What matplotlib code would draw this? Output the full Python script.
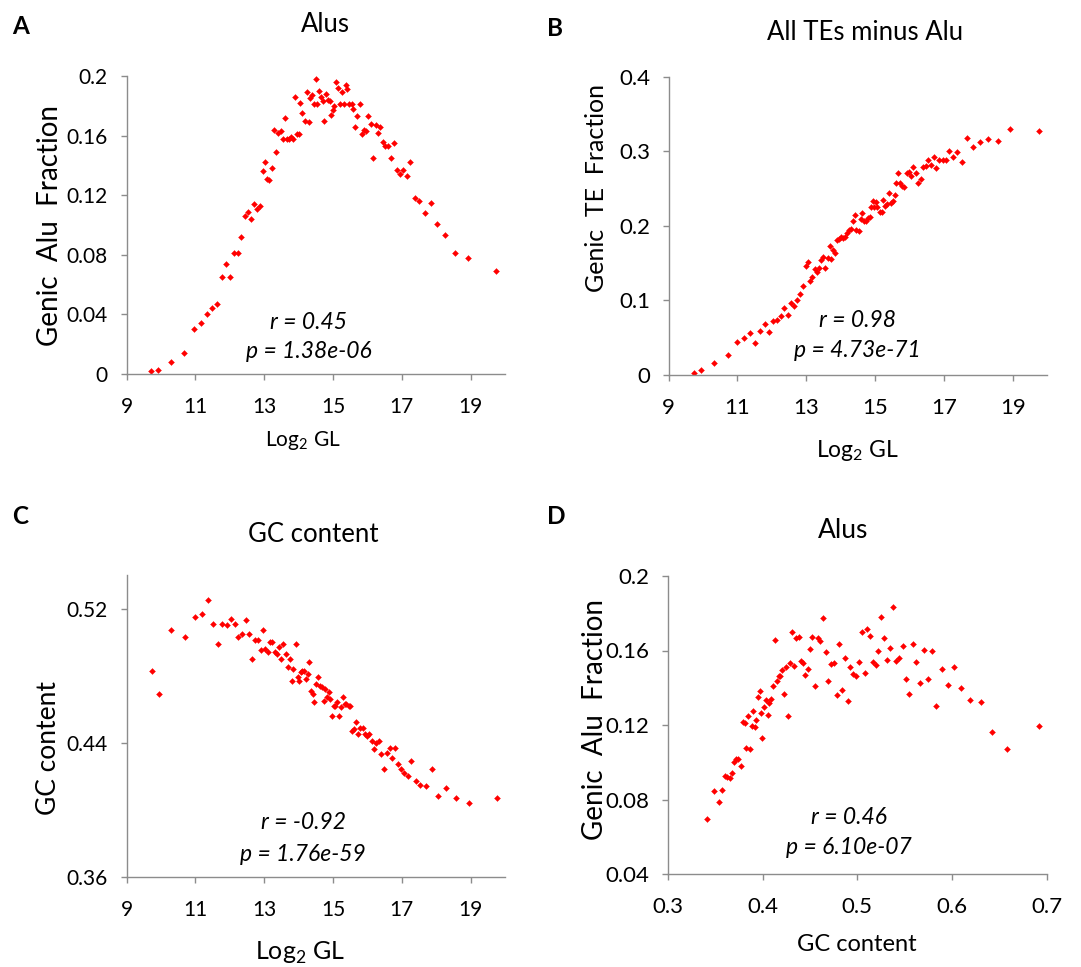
import matplotlib
matplotlib.use("Agg")
import matplotlib.pyplot as plt

# ---- data ----
# A: genic Alu fraction vs log2 gene length
alu_gl_x = [9.72, 9.91, 10.29, 10.67, 10.95, 11.16, 11.34, 11.49, 11.63, 11.76,
            11.89, 12.00, 12.13, 12.23, 12.33, 12.44, 12.53, 12.62, 12.71, 12.79,
            12.88, 12.95, 13.02, 13.08, 13.15, 13.22, 13.28, 13.35, 13.41, 13.48,
            13.54, 13.59, 13.66, 13.72, 13.77, 13.83, 13.88, 13.95, 14.00, 14.05,
            14.11, 14.17, 14.23, 14.29, 14.33, 14.39, 14.44, 14.49, 14.54, 14.59,
            14.64, 14.70, 14.75, 14.80, 14.85, 14.90, 14.94, 14.99, 15.04, 15.09,
            15.14, 15.20, 15.25, 15.31, 15.37, 15.42, 15.47, 15.54, 15.59, 15.65,
            15.70, 15.77, 15.84, 15.89, 15.97, 16.03, 16.10, 16.16, 16.24, 16.31,
            16.37, 16.44, 16.52, 16.60, 16.68, 16.77, 16.85, 16.95, 17.04, 17.14,
            17.23, 17.38, 17.51, 17.66, 17.84, 18.03, 18.26, 18.55, 18.92, 19.73]
alu_gl_y = [0.0018, 0.0027, 0.0078, 0.0139, 0.030, 0.034, 0.040, 0.044, 0.047, 0.065,
            0.074, 0.065, 0.081, 0.081, 0.092, 0.106, 0.109, 0.104, 0.114, 0.111,
            0.113, 0.136, 0.142, 0.131, 0.130, 0.138, 0.164, 0.149, 0.162, 0.163,
            0.158, 0.172, 0.158, 0.158, 0.159, 0.158, 0.186, 0.161, 0.161, 0.182,
            0.175, 0.170, 0.189, 0.169, 0.185, 0.187, 0.181, 0.198, 0.181, 0.190,
            0.186, 0.183, 0.170, 0.188, 0.184, 0.183, 0.174, 0.177, 0.180, 0.196,
            0.192, 0.181, 0.189, 0.181, 0.194, 0.191, 0.181, 0.181, 0.178, 0.166,
            0.173, 0.181, 0.161, 0.164, 0.163, 0.173, 0.168, 0.145, 0.167, 0.162,
            0.166, 0.156, 0.153, 0.153, 0.145, 0.155, 0.137, 0.134, 0.137, 0.133,
            0.142, 0.118, 0.116, 0.108, 0.115, 0.101, 0.093, 0.081, 0.078, 0.069]

# B: genic TE (minus Alu) fraction vs log2 gene length
te_gl_x = [9.75, 9.94, 10.31, 10.71, 10.99, 11.20, 11.36, 11.51, 11.65, 11.79,
           11.92, 12.04, 12.15, 12.26, 12.36, 12.47, 12.56, 12.64, 12.73, 12.82,
           12.91, 12.98, 13.05, 13.10, 13.18, 13.25, 13.31, 13.38, 13.43, 13.49,
           13.55, 13.62, 13.68, 13.73, 13.79, 13.85, 13.90, 13.96, 14.01, 14.07,
           14.13, 14.18, 14.24, 14.30, 14.35, 14.41, 14.46, 14.52, 14.58, 14.62,
           14.68, 14.74, 14.79, 14.84, 14.89, 14.93, 14.98, 15.03, 15.07, 15.13,
           15.19, 15.24, 15.30, 15.35, 15.41, 15.47, 15.51, 15.57, 15.62, 15.67,
           15.72, 15.78, 15.84, 15.92, 15.98, 16.05, 16.11, 16.19, 16.26, 16.34,
           16.40, 16.47, 16.54, 16.64, 16.70, 16.78, 16.87, 16.97, 17.06, 17.15,
           17.27, 17.39, 17.53, 17.67, 17.84, 18.06, 18.28, 18.57, 18.93, 19.76]
te_gl_y = [0.002, 0.006, 0.016, 0.026, 0.044, 0.049, 0.056, 0.043, 0.059, 0.068,
           0.057, 0.072, 0.074, 0.079, 0.089, 0.080, 0.096, 0.092, 0.101, 0.108,
           0.119, 0.146, 0.151, 0.126, 0.131, 0.142, 0.138, 0.144, 0.154, 0.158,
           0.143, 0.157, 0.173, 0.155, 0.168, 0.164, 0.181, 0.182, 0.185, 0.184,
           0.185, 0.191, 0.195, 0.196, 0.207, 0.215, 0.194, 0.193, 0.209, 0.217,
           0.207, 0.206, 0.210, 0.212, 0.225, 0.234, 0.225, 0.232, 0.225, 0.219,
           0.219, 0.235, 0.227, 0.229, 0.244, 0.231, 0.234, 0.242, 0.258, 0.271,
           0.258, 0.254, 0.252, 0.271, 0.273, 0.267, 0.279, 0.271, 0.258, 0.263,
           0.279, 0.281, 0.289, 0.282, 0.293, 0.278, 0.289, 0.289, 0.288, 0.301,
           0.293, 0.299, 0.286, 0.318, 0.306, 0.313, 0.317, 0.314, 0.330, 0.328]

# C: GC content vs log2 gene length
gc_gl_x = [9.75, 9.93, 10.30, 10.69, 10.98, 11.18, 11.35, 11.50, 11.65, 11.78,
           11.91, 12.03, 12.14, 12.25, 12.35, 12.46, 12.55, 12.64, 12.73, 12.81,
           12.91, 12.97, 13.03, 13.10, 13.17, 13.23, 13.30, 13.37, 13.43, 13.50,
           13.55, 13.62, 13.68, 13.74, 13.80, 13.85, 13.91, 13.97, 14.01, 14.06,
           14.11, 14.15, 14.20, 14.26, 14.30, 14.35, 14.41, 14.46, 14.51, 14.57,
           14.62, 14.67, 14.73, 14.78, 14.83, 14.88, 14.92, 14.98, 15.03, 15.07,
           15.12, 15.17, 15.22, 15.28, 15.34, 15.39, 15.45, 15.50, 15.56, 15.62,
           15.67, 15.73, 15.79, 15.86, 15.92, 16.00, 16.06, 16.13, 16.20, 16.26,
           16.34, 16.40, 16.47, 16.56, 16.65, 16.72, 16.81, 16.89, 16.98, 17.06,
           17.17, 17.27, 17.41, 17.54, 17.69, 17.88, 18.06, 18.28, 18.58, 18.95, 19.78]
gc_gl_y = [0.483, 0.469, 0.507, 0.503, 0.515, 0.517, 0.525, 0.511, 0.499, 0.511,
           0.510, 0.514, 0.511, 0.503, 0.505, 0.513, 0.505, 0.490, 0.501, 0.501,
           0.495, 0.507, 0.496, 0.494, 0.500, 0.500, 0.494, 0.493, 0.497, 0.490,
           0.499, 0.493, 0.485, 0.490, 0.477, 0.484, 0.499, 0.479, 0.477, 0.482,
           0.483, 0.483, 0.478, 0.481, 0.488, 0.471, 0.469, 0.464, 0.475, 0.479,
           0.474, 0.473, 0.465, 0.472, 0.467, 0.470, 0.466, 0.456, 0.462, 0.462,
           0.464, 0.456, 0.461, 0.467, 0.463, 0.463, 0.462, 0.462, 0.447, 0.448,
           0.452, 0.445, 0.449, 0.449, 0.445, 0.444, 0.445, 0.441, 0.436, 0.440,
           0.441, 0.433, 0.424, 0.434, 0.437, 0.431, 0.437, 0.427, 0.424, 0.422,
           0.420, 0.429, 0.417, 0.415, 0.414, 0.424, 0.408, 0.413, 0.407, 0.404, 0.407]

# D: genic Alu fraction vs GC content
alu_gc_x = [0.3415, 0.349, 0.3534, 0.3575, 0.3603, 0.3626, 0.3654, 0.3681, 0.3701, 0.3722,
            0.3742, 0.3766, 0.379, 0.381, 0.3824, 0.3841, 0.3861, 0.3882, 0.3895, 0.3916,
            0.3929, 0.3946, 0.3967, 0.398, 0.3997, 0.4014, 0.4031, 0.4052, 0.4072, 0.4089,
            0.411, 0.413, 0.4151, 0.4171, 0.4188, 0.4205, 0.4226, 0.4249, 0.427, 0.429,
            0.4311, 0.4334, 0.4355, 0.4379, 0.4403, 0.4426, 0.445, 0.4474, 0.4498, 0.4525,
            0.4556, 0.4586, 0.461, 0.4637, 0.4668, 0.4695, 0.4726, 0.4753, 0.4784, 0.4811,
            0.4838, 0.4869, 0.4896, 0.4923, 0.4954, 0.4981, 0.5015, 0.5046, 0.5077, 0.5107,
            0.5138, 0.5168, 0.5196, 0.5223, 0.5254, 0.5284, 0.5315, 0.5346, 0.5376, 0.541,
            0.5441, 0.5478, 0.5512, 0.5546, 0.5584, 0.5621, 0.5659, 0.57, 0.5744, 0.5791,
            0.5836, 0.5894, 0.5958, 0.602, 0.6098, 0.6193, 0.6302, 0.6425, 0.6585, 0.6922]
alu_gc_y = [0.0697, 0.0846, 0.0785, 0.0849, 0.0928, 0.0921, 0.0916, 0.0944, 0.1001, 0.1016,
            0.1018, 0.0982, 0.1214, 0.1211, 0.1077, 0.1247, 0.1070, 0.1195, 0.1275, 0.1189,
            0.1227, 0.1350, 0.1385, 0.1266, 0.1129, 0.1295, 0.1336, 0.1256, 0.1320, 0.1342,
            0.1411, 0.1655, 0.1434, 0.1462, 0.1462, 0.1494, 0.1367, 0.1512, 0.1247, 0.1531,
            0.1698, 0.1519, 0.1669, 0.1674, 0.1542, 0.1531, 0.1471, 0.1501, 0.1610, 0.1671,
            0.1408, 0.1666, 0.1651, 0.1777, 0.1592, 0.1437, 0.1528, 0.1533, 0.1363, 0.1633,
            0.1386, 0.1560, 0.1331, 0.1512, 0.1476, 0.1463, 0.1538, 0.1701, 0.1478, 0.1717,
            0.1678, 0.1540, 0.1521, 0.1596, 0.1778, 0.1669, 0.1549, 0.1615, 0.1832, 0.1544,
            0.1562, 0.1623, 0.1445, 0.1365, 0.1633, 0.1540, 0.1426, 0.1605, 0.1445, 0.1599,
            0.1302, 0.1501, 0.1417, 0.1512, 0.1399, 0.1333, 0.1324, 0.1161, 0.1070, 0.1195]

gl_ticks = [9, 11, 13, 15, 17, 19]
gl_ticklabels = ['9', '11', '13', '15', '17', '19']

plt.rcParams['font.family'] = ['Lato', 'DejaVu Sans']
plt.rcParams['mathtext.fontset'] = 'custom'
plt.rcParams['mathtext.rm'] = 'Lato'

AXIS_GREY = '#8c8c8c'


def style_axes(ax, tick_size):
    # excel look: only left/bottom axis in grey, ticks outside
    for side in ['top', 'right']:
        ax.spines[side].set_visible(False)
    for side in ['left', 'bottom']:
        ax.spines[side].set_color(AXIS_GREY)
        ax.spines[side].set_linewidth(1.0)
    ax.tick_params(axis='both', direction='out', length=4.5, width=1.0,
                   color=AXIS_GREY, labelsize=tick_size, labelcolor='black')
    ax.tick_params(axis='x', pad=12)
    ax.tick_params(axis='y', pad=9)


def scatter_panel(rect, x, y, xlim, ylim, xticks, yticks, yticklabels,
                  xlabel, xlabel_size, xlabel_pos, ylabel, ylabel_size, ylabel_pos,
                  r_txt, p_txt, txt_xy, tick_size=15):
    ax = fig.add_axes(rect)
    ax.plot(x, y, linestyle='none', marker='D', markersize=3.0,
            markerfacecolor='#ff0000', markeredgecolor='#ff0000', markeredgewidth=0.3)
    ax.set_xlim(*xlim)
    ax.set_ylim(*ylim)
    ax.set_xticks(xticks[0])
    ax.set_xticklabels(xticks[1])
    ax.set_yticks(yticks)
    ax.set_yticklabels(yticklabels)
    style_axes(ax, tick_size)
    # axis titles centred on the given axes-fraction spot
    ax.set_xlabel(xlabel, fontsize=xlabel_size, va='center')
    ax.xaxis.set_label_coords(*xlabel_pos)
    ax.set_ylabel(ylabel, fontsize=ylabel_size, va='center')
    ax.yaxis.set_label_coords(*ylabel_pos)
    # r and p values in the middle of the plot
    ax.text(txt_xy[0], txt_xy[1], r_txt, style='italic', fontsize=16.5,
            ha='center', va='center')
    ax.text(txt_xy[0], txt_xy[2], p_txt, style='italic', fontsize=16.5,
            ha='center', va='center')
    return ax


fig = plt.figure(figsize=(10.81, 9.67), dpi=100)
W, H = 1081.0, 967.0


def rect_px(left, right, top, bottom):
    return [left / W, 1 - bottom / H, (right - left) / W, (bottom - top) / H]


log_label = r'Log$_\mathregular{2}$ GL'

# A
scatter_panel(rect_px(126.7, 505, 76, 374), alu_gl_x, alu_gl_y, (9, 20), (0, 0.2),
              (gl_ticks, gl_ticklabels),
              [0, 0.04, 0.08, 0.12, 0.16, 0.2], ['0', '0.04', '0.08', '0.12', '0.16', '0.2'],
              log_label, 15, (0.466, -0.222), 'Genic  Alu  Fraction', 20, (-0.203, 0.5),
              'r = 0.45', 'p = 1.38e-06', (14.3, 0.0347, 0.015))

# B
scatter_panel(rect_px(668.7, 1047, 77, 374.7), te_gl_x, te_gl_y, (9, 20), (0, 0.4),
              (gl_ticks, gl_ticklabels),
              [0, 0.1, 0.2, 0.3, 0.4], ['0', '0.1', '0.2', '0.3', '0.4'],
              log_label, 16.5, (0.498, -0.253), 'Genic  TE  Fraction', 18, (-0.19, 0.627),
              'r = 0.98', 'p = 4.73e-71', (14.48, 0.073, 0.033), tick_size=16)

# C
scatter_panel(rect_px(126.7, 505, 575, 876.7), gc_gl_x, gc_gl_y, (9, 20), (0.36, 0.54),
              (gl_ticks, gl_ticklabels),
              [0.36, 0.44, 0.52], ['0.36', '0.44', '0.52'],
              log_label, 18, (0.458, -0.253), 'GC content', 19, (-0.208, 0.427),
              'r = -0.92', 'p = 1.76e-59', (14.13, 0.3924, 0.3735))

# D
scatter_panel(rect_px(668, 1046.7, 576, 874), alu_gc_x, alu_gc_y, (0.3, 0.7), (0.04, 0.2),
              ([0.3, 0.4, 0.5, 0.6, 0.7], ['0.3', '0.4', '0.5', '0.6', '0.7']),
              [0.04, 0.08, 0.12, 0.16, 0.2], ['0.04', '0.08', '0.12', '0.16', '0.2'],
              'GC content', 17, (0.499, -0.238), 'Genic  Alu  Fraction', 20, (-0.193, 0.517),
              'r = 0.46', 'p = 6.10e-07', (0.4913, 0.0702, 0.0541), tick_size=16)

# panel titles
fig.text(325 / W, 1 - 24 / H, 'Alus', fontsize=18.5, ha='center', va='center')
fig.text(865 / W, 1 - 33 / H, 'All TEs minus Alu', fontsize=18.5, ha='center', va='center')
fig.text(313 / W, 1 - 535 / H, 'GC content', fontsize=18.5, ha='center', va='center')
fig.text(843 / W, 1 - 530 / H, 'Alus', fontsize=19, ha='center', va='center')

# panel letters
for letter, px, py in [('A', 21, 27), ('B', 555, 29), ('C', 20, 517), ('D', 556, 517)]:
    fig.text(px / W, 1 - py / H, letter, fontsize=17.5, fontweight='bold',
             ha='center', va='center')

fig.savefig('out.png', dpi=100)
